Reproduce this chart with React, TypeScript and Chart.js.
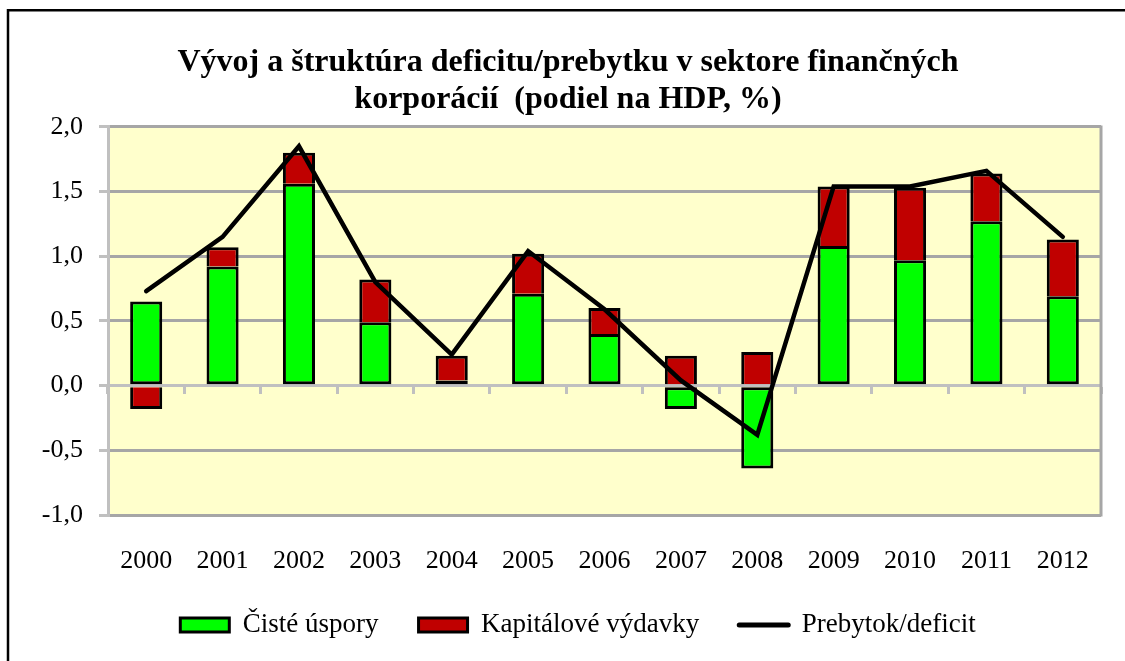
import React, { useEffect, useRef } from 'react';
import { Chart, registerables } from 'chart.js';

Chart.register(...registerables);

const years = ['2000', '2001', '2002', '2003', '2004', '2005', '2006', '2007', '2008', '2009', '2010', '2011', '2012'];
const cisteUspory = [0.65, 0.92, 1.56, 0.49, 0.04, 0.71, 0.40, -0.18, -0.64, 1.08, 0.97, 1.27, 0.69];
const kapitaloveVydavky = [-0.18, 0.15, 0.24, 0.33, 0.19, 0.31, 0.20, 0.23, 0.26, 0.46, 0.56, 0.37, 0.44];
const prebytokDeficit = [0.73, 1.15, 1.85, 0.80, 0.24, 1.04, 0.59, 0.04, -0.38, 1.54, 1.54, 1.66, 1.15];
const seriesNames = ['Čisté úspory', 'Kapitálové výdavky', 'Prebytok/deficit'];
const titleLines = ['Vývoj a štruktúra deficitu/prebytku v sektore finančných', 'korporácií  (podiel na HDP, %)'];
const yMin = -1;
const yMax = 2;
const yStep = 0.5;

const FONT = "'Liberation Serif', 'Times New Roman', serif";

const framePlugin = {
  id: 'framePlugin',
  afterLayout(chart: any) {
    if (chart.legend) {
      chart.legend.left += 20;
    }
  },
  beforeDraw(chart: any) {
    const { ctx, chartArea } = chart;
    ctx.save();
    ctx.fillStyle = '#FFFFCC';
    ctx.fillRect(chartArea.left, chartArea.top, chartArea.right - chartArea.left, chartArea.bottom - chartArea.top);
    ctx.restore();
  },
  afterDatasetsDraw(chart: any) {
    const { ctx, chartArea } = chart;
    ctx.save();
    ctx.strokeStyle = '#A6A6A6';
    ctx.lineWidth = 3;
    ctx.beginPath();
    ctx.moveTo(chartArea.right, chartArea.top - 1.5);
    ctx.lineTo(chartArea.right, chartArea.bottom + 1.5);
    ctx.stroke();
    ctx.restore();
  },
  afterDraw(chart: any) {
    const { ctx, width, height } = chart;
    ctx.save();
    ctx.strokeStyle = '#000000';
    ctx.lineWidth = 2.5;
    ctx.beginPath();
    ctx.moveTo(8, height);
    ctx.lineTo(8, 10.3);
    ctx.lineTo(width, 10.3);
    ctx.stroke();
    ctx.restore();
  },
};

export default function App() {
  const canvasRef = useRef<HTMLCanvasElement | null>(null);

  useEffect(() => {
    const canvas = canvasRef.current;
    if (!canvas) return;
    const chart = new Chart(canvas, {
      type: 'bar',
      data: {
        labels: years,
        datasets: [
          {
            type: 'bar',
            label: seriesNames[0],
            data: cisteUspory,
            backgroundColor: '#00FF00',
            borderColor: '#000000',
            borderWidth: 3,
            borderSkipped: false,
            barPercentage: 0.42,
            categoryPercentage: 1,
            order: 1,
          },
          {
            type: 'bar',
            label: seriesNames[1],
            data: kapitaloveVydavky,
            backgroundColor: '#C00000',
            borderColor: '#000000',
            borderWidth: 3,
            borderSkipped: 'start',
            barPercentage: 0.42,
            categoryPercentage: 1,
            order: 1,
          },
          {
            type: 'line',
            label: seriesNames[2],
            data: prebytokDeficit,
            borderColor: '#000000',
            backgroundColor: '#000000',
            borderWidth: 4.5,
            pointRadius: 0,
            tension: 0,
            borderCapStyle: 'round',
            stack: 'line',
            order: 0,
          },
        ],
      },
      options: {
        responsive: false,
        animation: false,
        devicePixelRatio: 1,
        layout: { padding: { left: 35, right: 24, top: 0, bottom: 12.5 } },
        scales: {
          x: {
            type: 'category',
            stacked: true,
            position: 'bottom',
            offset: true,
            grid: { display: false, drawTicks: false },
            border: { display: false },
            ticks: {
              color: '#000000',
              font: { family: FONT, size: 26 },
              padding: 31,
              maxRotation: 0,
              autoSkip: false,
            },
            afterFit: (s: any) => {
              s.height = 56.5;
            },
          },
          x2: {
            type: 'category',
            labels: years,
            position: { y: 0 },
            offset: true,
            grid: {
              display: true,
              drawOnChartArea: false,
              drawTicks: true,
              tickLength: 7,
              tickWidth: 3,
              tickColor: '#C0C0C0',
              offset: true,
            },
            border: { display: true, color: '#C0C0C0', width: 3 },
            ticks: { display: false },
          },
          y: {
            stacked: true,
            min: yMin,
            max: yMax,
            ticks: {
              stepSize: yStep,
              color: '#000000',
              font: { family: FONT, size: 26 },
              padding: 16,
              callback: (v: any) => Number(v).toFixed(1).replace('.', ','),
            },
            grid: {
              color: (c: any) => (c.tick && c.tick.value === 0 ? '#C0C0C0' : '#A6A6A6'),
              lineWidth: 3,
              tickLength: 9,
              tickColor: '#C0C0C0',
              drawTicks: true,
            },
            border: { display: true, color: '#C0C0C0', width: 3 },
            afterFit: (s: any) => {
              s.width = 73;
            },
          },
        },
        plugins: {
          title: {
            display: true,
            text: titleLines,
            color: '#000000',
            font: { family: FONT, size: 32, weight: 'bold', lineHeight: 1.17 },
            padding: { top: 44, bottom: 8 },
          },
          legend: {
            display: true,
            position: 'bottom',
            labels: {
              color: '#000000',
              font: { family: FONT, size: 27 },
              padding: 40,
              usePointStyle: true,
              pointStyleWidth: 49,
              boxHeight: 14,
              sort: (a: any, b: any) => a.datasetIndex - b.datasetIndex,
              generateLabels: (ch: any) => {
                const items = Chart.defaults.plugins.legend.labels.generateLabels(ch);
                return items.map((it: any) => {
                  if (it.datasetIndex === 2) {
                    return { ...it, pointStyle: 'line', lineWidth: 5, strokeStyle: '#000000', fillStyle: '#000000', lineCap: 'round' };
                  }
                  return { ...it, pointStyle: 'rect', lineWidth: 3, strokeStyle: '#000000' };
                });
              },
            },
          },
          tooltip: { enabled: false },
        },
      },
      plugins: [framePlugin],
    } as any);
    return () => chart.destroy();
  }, []);

  return (
    <div style={{ position: 'fixed', left: 0, top: 0, width: 1125, height: 661, background: '#FFFFFF' }}>
      <canvas ref={canvasRef} width={1125} height={661} style={{ display: 'block', width: 1125, height: 661 }} />
    </div>
  );
}
